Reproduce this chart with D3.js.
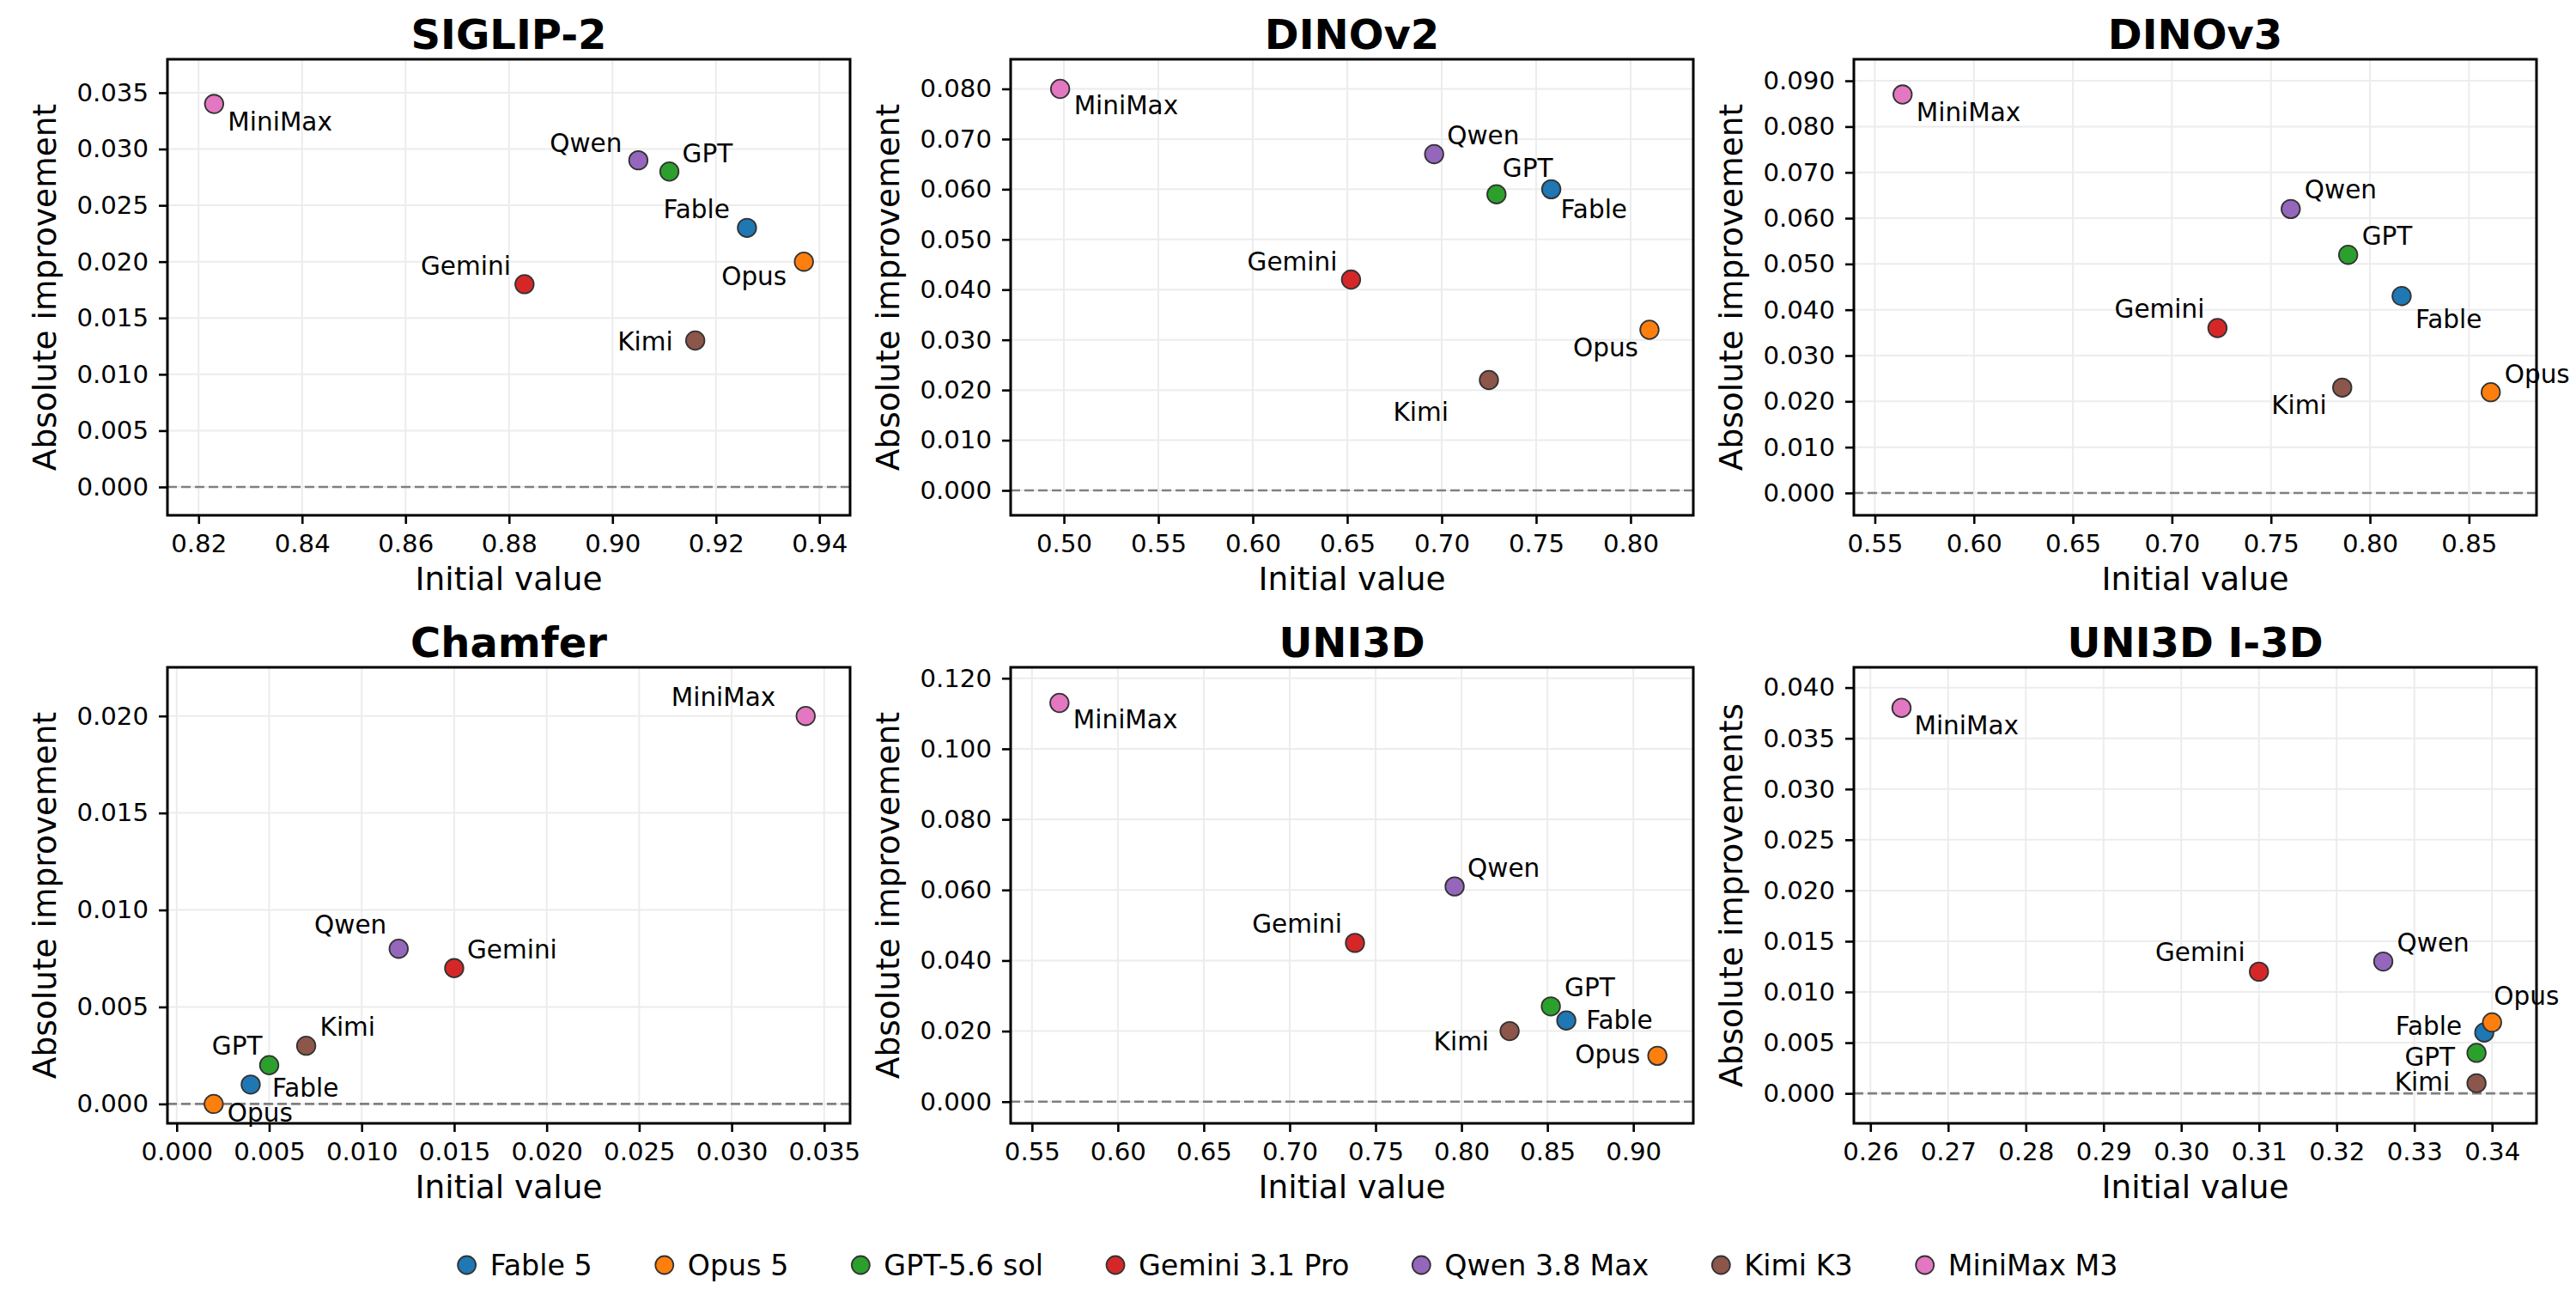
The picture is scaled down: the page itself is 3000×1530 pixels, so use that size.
<!DOCTYPE html>
<html>
<head>
<meta charset="utf-8">
<script src="https://cdn.jsdelivr.net/npm/d3@7"></script>
<style>
  html, body { margin: 0; padding: 0; background: #ffffff; }
  svg { display: block; }
  text { font-family: "DejaVu Sans", sans-serif; }
</style>
</head>
<body>
<svg id="chart" width="3000" height="1530"></svg>
<script>
// ---------------- DATA ----------------
const models     = ["Fable 5", "Opus 5", "GPT-5.6 sol", "Gemini 3.1 Pro", "Qwen 3.8 Max", "Kimi K3", "MiniMax M3"];
const shortNames = ["Fable", "Opus", "GPT", "Gemini", "Qwen", "Kimi", "MiniMax"];
const modelColors = ["#1f77b4", "#ff7f0e", "#2ca02c", "#d62728", "#9467bd", "#8c564b", "#e377c2"];

const panelTitles = ["SIGLIP-2", "DINOv2", "DINOv3", "Chamfer", "UNI3D", "UNI3D I-3D"];
const xAxisLabels = ["Initial value", "Initial value", "Initial value", "Initial value", "Initial value", "Initial value"];
const yAxisLabels = ["Absolute improvement", "Absolute improvement", "Absolute improvement",
                     "Absolute improvement", "Absolute improvement", "Absolute improvements"];

// initial value (x) and absolute improvement (y), in model order
const siglipInitial   = [0.926, 0.937, 0.911, 0.883, 0.905, 0.916, 0.823];
const siglipImprove   = [0.023, 0.020, 0.028, 0.018, 0.029, 0.013, 0.034];
const dinov2Initial   = [0.758, 0.810, 0.729, 0.652, 0.696, 0.725, 0.498];
const dinov2Improve   = [0.060, 0.032, 0.059, 0.042, 0.067, 0.022, 0.080];
const dinov3Initial   = [0.816, 0.861, 0.789, 0.723, 0.760, 0.786, 0.564];
const dinov3Improve   = [0.043, 0.022, 0.052, 0.036, 0.062, 0.023, 0.087];
const chamferInitial  = [0.004, 0.002, 0.005, 0.015, 0.012, 0.007, 0.034];
const chamferImprove  = [0.001, 0.000, 0.002, 0.007, 0.008, 0.003, 0.020];
const uni3dInitial    = [0.861, 0.914, 0.852, 0.738, 0.796, 0.828, 0.566];
const uni3dImprove    = [0.023, 0.013, 0.027, 0.045, 0.061, 0.020, 0.113];
const uni3dI3dInitial = [0.339, 0.340, 0.338, 0.310, 0.326, 0.338, 0.264];
const uni3dI3dImprove = [0.006, 0.007, 0.004, 0.012, 0.013, 0.001, 0.038];

// tick values
const siglipXTicks   = [0.82, 0.84, 0.86, 0.88, 0.90, 0.92, 0.94];
const siglipYTicks   = [0.000, 0.005, 0.010, 0.015, 0.020, 0.025, 0.030, 0.035];
const dinov2XTicks   = [0.50, 0.55, 0.60, 0.65, 0.70, 0.75, 0.80];
const dinov2YTicks   = [0.000, 0.010, 0.020, 0.030, 0.040, 0.050, 0.060, 0.070, 0.080];
const dinov3XTicks   = [0.55, 0.60, 0.65, 0.70, 0.75, 0.80, 0.85];
const dinov3YTicks   = [0.000, 0.010, 0.020, 0.030, 0.040, 0.050, 0.060, 0.070, 0.080, 0.090];
const chamferXTicks  = [0.000, 0.005, 0.010, 0.015, 0.020, 0.025, 0.030, 0.035];
const chamferYTicks  = [0.000, 0.005, 0.010, 0.015, 0.020];
const uni3dXTicks    = [0.55, 0.60, 0.65, 0.70, 0.75, 0.80, 0.85, 0.90];
const uni3dYTicks    = [0.000, 0.020, 0.040, 0.060, 0.080, 0.100, 0.120];
const uni3dI3dXTicks = [0.26, 0.27, 0.28, 0.29, 0.30, 0.31, 0.32, 0.33, 0.34];
const uni3dI3dYTicks = [0.000, 0.005, 0.010, 0.015, 0.020, 0.025, 0.030, 0.035, 0.040];

// ---------------- LAYOUT / STYLE CONFIG ----------------
const W = 3000, H = 1530;
const colLeft = [195, 1177, 2159];
const rowTop = [69, 777];
const axW = 795, axH = 531;

const panelDefs = [
  { x: siglipInitial,   y: siglipImprove,   xt: siglipXTicks,   yt: siglipYTicks,   xf: ".2f",
    xdom: [0.81398, 0.94593], ydom: [-0.002516, 0.03797] },
  { x: dinov2Initial,   y: dinov2Improve,   xt: dinov2XTicks,   yt: dinov2YTicks,   xf: ".2f",
    xdom: [0.4718, 0.8332], ydom: [-0.00496, 0.0859] },
  { x: dinov3Initial,   y: dinov3Improve,   xt: dinov3XTicks,   yt: dinov3YTicks,   xf: ".2f",
    xdom: [0.5394, 0.8841], ydom: [-0.00488, 0.0947] },
  { x: chamferInitial,  y: chamferImprove,  xt: chamferXTicks,  yt: chamferYTicks,  xf: ".3f",
    xdom: [-0.0005, 0.0364], ydom: [-0.0010, 0.02251] },
  { x: uni3dInitial,    y: uni3dImprove,    xt: uni3dXTicks,    yt: uni3dYTicks,    xf: ".2f",
    xdom: [0.5376, 0.9349], ydom: [-0.00614, 0.1231] },
  { x: uni3dI3dInitial, y: uni3dI3dImprove, xt: uni3dI3dXTicks, yt: uni3dI3dYTicks, xf: ".2f",
    xdom: [0.25787, 0.34572], ydom: [-0.00295, 0.0420] }
];

// label placement: [dx px, baseline dy px, anchor] per model, per panel
const labelPlacement = [
  [[-20,-11,"end"],[-20,27,"end"],[15,-11,"start"],[-16,-11,"end"],[-19,-10,"end"],[-26,12,"end"],[16,31,"start"]],
  [[11,34,"start"],[-13,31,"end"],[7,-20,"start"],[-16,-11,"end"],[15,-11,"start"],[-47,48,"end"],[16,30,"start"]],
  [[16,37,"start"],[16,-11,"start"],[16,-12,"start"],[-15,-12,"end"],[16,-12,"start"],[-18,31,"end"],[16,31,"start"]],
  [[25,14,"start"],[16,21,"start"],[-8,-12,"end"],[15,-11,"start"],[-14,-18,"end"],[16,-12,"start"],[-35,-12,"end"]],
  [[23,10,"start"],[-20,9,"end"],[16,-12,"start"],[-15,-12,"end"],[15,-11,"start"],[-24,22,"end"],[16,30,"start"]],
  [[-26,3,"end"],[2,-20,"start"],[-25,15,"end"],[-16,-12,"end"],[16,-12,"start"],[-31,9,"end"],[15,31,"start"]]
];

const FS_TICK = 29.2, FS_ANNOT = 29.5, FS_LABEL = 37.5, FS_TITLE = 48, FS_LEGEND = 33.3;
const MARKER_R = 10.8;

const svg = d3.select("#chart");
svg.append("rect").attr("width", W).attr("height", H).attr("fill", "#ffffff");

panelDefs.forEach((p, i) => {
  const left = colLeft[i % 3], top = rowTop[Math.floor(i / 3)];
  const g = svg.append("g").attr("transform", `translate(${left},${top})`);
  const xs = d3.scaleLinear().domain(p.xdom).range([0, axW]);
  const ys = d3.scaleLinear().domain(p.ydom).range([axH, 0]);

  // grid
  const grid = g.append("g");
  grid.selectAll("line.gx").data(p.xt).join("line")
    .attr("x1", d => xs(d)).attr("x2", d => xs(d)).attr("y1", 0).attr("y2", axH)
    .attr("stroke", "#ececec").attr("stroke-width", 2);
  grid.selectAll("line.gy").data(p.yt).join("line")
    .attr("y1", d => ys(d)).attr("y2", d => ys(d)).attr("x1", 0).attr("x2", axW)
    .attr("stroke", "#ececec").attr("stroke-width", 2);

  // zero line
  g.append("line").attr("x1", 0).attr("x2", axW).attr("y1", ys(0)).attr("y2", ys(0))
    .attr("stroke", "#808080").attr("stroke-width", 2.6).attr("stroke-dasharray", "11,5");

  // axes
  const xAxis = d3.axisBottom(xs).tickValues(p.xt).tickFormat(d3.format(p.xf)).tickSize(10).tickPadding(12);
  const yAxis = d3.axisLeft(ys).tickValues(p.yt).tickFormat(d3.format(".3f")).tickSize(10).tickPadding(12);
  const gx = g.append("g").attr("transform", `translate(0,${axH})`).call(xAxis);
  const gy = g.append("g").call(yAxis);
  [gx, gy].forEach(a => {
    a.select(".domain").remove();
    a.selectAll(".tick line").attr("stroke", "#000").attr("stroke-width", 2.6);
    a.selectAll(".tick text").attr("fill", "#000").style("font-size", FS_TICK + "px")
      .style("font-family", "'DejaVu Sans', sans-serif");
  });

  // frame
  g.append("rect").attr("x", 0).attr("y", 0).attr("width", axW).attr("height", axH)
    .attr("fill", "none").attr("stroke", "#000").attr("stroke-width", 3);

  // points
  const pts = models.map((m, k) => ({ k, x: p.x[k], y: p.y[k] }));
  g.selectAll("circle.pt").data(pts).join("circle")
    .attr("cx", d => xs(d.x)).attr("cy", d => ys(d.y)).attr("r", MARKER_R)
    .attr("fill", d => modelColors[d.k]).attr("stroke", "#333333").attr("stroke-width", 1.8);

  // annotations
  g.selectAll("text.ann").data(pts).join("text")
    .attr("x", d => xs(d.x) + labelPlacement[i][d.k][0])
    .attr("y", d => ys(d.y) + labelPlacement[i][d.k][1])
    .attr("text-anchor", d => labelPlacement[i][d.k][2])
    .style("font-size", FS_ANNOT + "px").attr("fill", "#000")
    .text(d => shortNames[d.k]);

  // title
  g.append("text").attr("x", axW / 2).attr("y", -12).attr("text-anchor", "middle")
    .style("font-size", FS_TITLE + "px").style("font-weight", "bold").text(panelTitles[i]);
  // x label
  g.append("text").attr("x", axW / 2).attr("y", axH + 87).attr("text-anchor", "middle")
    .style("font-size", FS_LABEL + "px").text(xAxisLabels[i]);
  // y label
  g.append("text").attr("transform", `translate(-130,${axH / 2}) rotate(-90)`).attr("text-anchor", "middle")
    .style("font-size", FS_LABEL + "px").text(yAxisLabels[i]);
});

// legend
const leg = svg.append("g");
const legendY = 1473;
const items = models.map((m, k) => {
  const gi = leg.append("g");
  gi.append("circle").attr("cx", 0).attr("cy", legendY).attr("r", 10.5)
    .attr("fill", modelColors[k]).attr("stroke", "#333333").attr("stroke-width", 1.8);
  const t = gi.append("text").attr("x", 27).attr("y", legendY + 12)
    .style("font-size", FS_LEGEND + "px").text(m);
  return { gi, w: t.node().getComputedTextLength() };
});
let cursor = 0;
const positions = items.map(it => { const p = cursor; cursor += 27 + it.w + 84; return p; });
const totalW = cursor - 84 + 10;
const startX = 1500 - totalW / 2 + 10;
items.forEach((it, k) => it.gi.attr("transform", `translate(${startX + positions[k]},0)`));
</script>
</body>
</html>
